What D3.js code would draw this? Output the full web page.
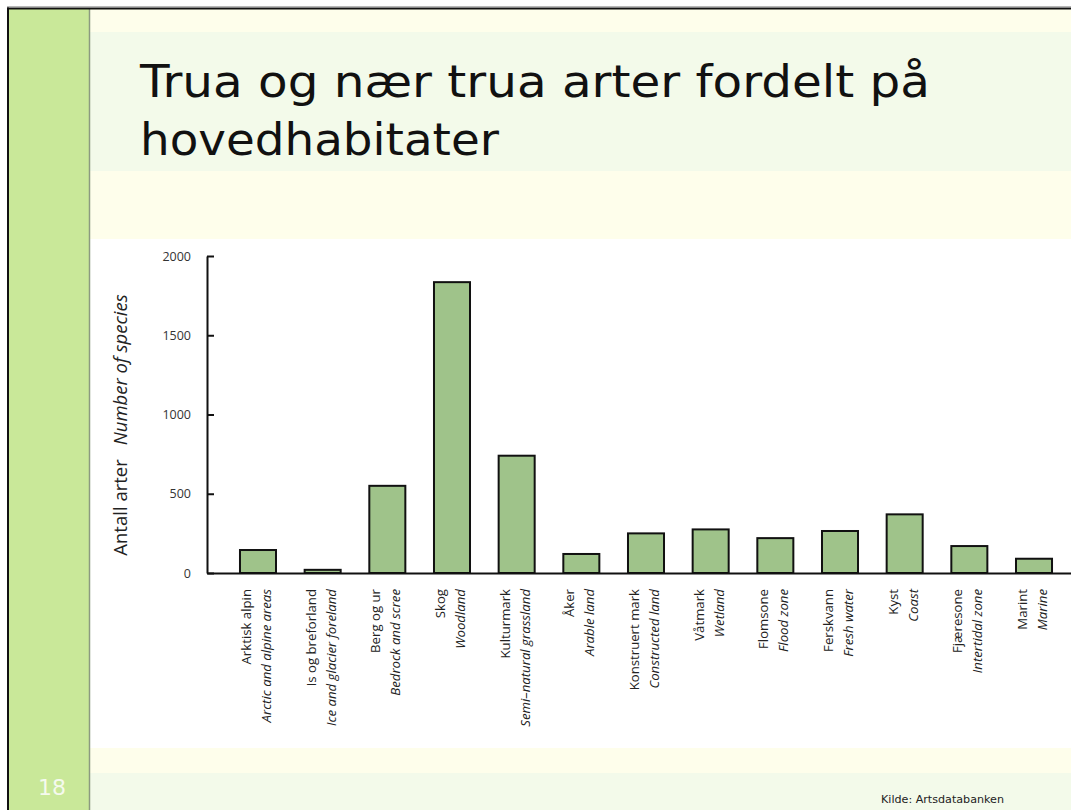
<!DOCTYPE html>
<html>
<head>
<meta charset="utf-8">
<script src="https://cdn.jsdelivr.net/npm/d3@7"></script>
<style>
  html, body { margin: 0; padding: 0; background: #ffffff; }
  svg { display: block; }
</style>
</head>
<body>
<svg id="chart" width="1071" height="810"></svg>
<script>
// ---- data ----
const categoriesNo = ["Arktisk alpin", "Is og breforland", "Berg og ur", "Skog", "Kulturmark", "Åker",
  "Konstruert mark", "Våtmark", "Flomsone", "Ferskvann", "Kyst", "Fjæresone", "Marint"];
const categoriesEn = ["Arctic and alpine areas", "Ice and glacier foreland", "Bedrock and scree", "Woodland",
  "Semi\u2013natural grassland", "Arable land", "Constructed land", "Wetland", "Flood zone", "Fresh water",
  "Coast", "Intertidal zone", "Marine"];
const values = [145, 20, 550, 1835, 740, 120, 250, 275, 220, 265, 370, 170, 90];
const yTicks = [0, 500, 1000, 1500, 2000];
const titleLines = ["Trua og nær trua arter fordelt på", "hovedhabitater"];
const yLabelNo = "Antall arter";
const yLabelEn = "Number of species";
const pageNumber = "18";
const sourceText = "Kilde: Artsdatabanken";

const svg = d3.select("#chart");

// ---- slide background ----
const cream = "#fefeeb", lightGreen = "#f3faea";
svg.append("rect").attr("x", 0).attr("y", 0).attr("width", 1071).attr("height", 810).attr("fill", "#ffffff");
const bands = [
  [9, 32, cream], [32, 171, lightGreen], [171, 239, cream], [239, 748, "#ffffff"],
  [748, 773, cream], [773, 810, lightGreen]
];
bands.forEach(([y0, y1, c]) => {
  svg.append("rect").attr("x", 90).attr("y", y0).attr("width", 1071 - 90).attr("height", y1 - y0).attr("fill", c);
});
// left stripe
svg.append("rect").attr("x", 9).attr("y", 9).attr("width", 80).attr("height", 801).attr("fill", "#c9e899");
svg.append("line").attr("x1", 89.5).attr("x2", 89.5).attr("y1", 9).attr("y2", 810)
  .attr("stroke", "#8c9a80").attr("stroke-width", 1.5);
// frame
svg.append("line").attr("x1", 7).attr("x2", 1071).attr("y1", 6.5).attr("y2", 6.5).attr("stroke", "#b8b8b8").attr("stroke-width", 1);
svg.append("line").attr("x1", 7).attr("x2", 1071).attr("y1", 8.5).attr("y2", 8.5).attr("stroke", "#111").attr("stroke-width", 2);
svg.append("line").attr("x1", 8).attr("x2", 8).attr("y1", 7.5).attr("y2", 810).attr("stroke", "#111").attr("stroke-width", 2);

// ---- title ----
const titleWidths = [790, 359];
titleLines.forEach((t, i) => {
  svg.append("text").attr("x", 140).attr("y", 97 + i * 58)
    .attr("font-family", "DejaVu Sans, Verdana, sans-serif").attr("font-size", 44)
    .attr("fill", "#111").attr("textLength", titleWidths[i]).attr("lengthAdjust", "spacingAndGlyphs")
    .text(t);
});

// page number & source
svg.append("text").attr("x", 38).attr("y", 795).attr("font-family", "DejaVu Sans, sans-serif")
  .attr("font-size", 22).attr("fill", "#f5faee").text(pageNumber);
svg.append("text").attr("x", 881).attr("y", 803).attr("font-family", "DejaVu Sans, sans-serif")
  .attr("font-size", 10.5).attr("fill", "#222").attr("textLength", 123).attr("lengthAdjust", "spacingAndGlyphs")
  .text(sourceText);

// ---- chart ----
const x0 = 207, yBase = 573, yTop = 256;
const x = d3.scaleBand().domain(categoriesNo).range([x0, 1085]).paddingInner(0.443).paddingOuter(0.51);
const y = d3.scaleLinear().domain([0, 2000]).range([yBase, yTop]);

const g = svg.append("g");

// bars
g.selectAll("rect.bar").data(values).join("rect").attr("class", "bar")
  .attr("x", (d, i) => x(categoriesNo[i]))
  .attr("y", d => y(d))
  .attr("width", x.bandwidth())
  .attr("height", d => yBase - y(d))
  .attr("fill", "#9fc38a").attr("stroke", "#111").attr("stroke-width", 2);

// y axis
const yAxis = d3.axisLeft(y).tickValues(yTicks).tickSizeInner(-7).tickSizeOuter(0).tickPadding(16).tickFormat(d3.format("d"));
const ya = g.append("g").attr("transform", `translate(${x0},0)`).call(yAxis);
ya.select(".domain").attr("stroke", "#111").attr("stroke-width", 2);
ya.selectAll(".tick line").attr("stroke", "#111").attr("stroke-width", 2);
ya.selectAll(".tick text").attr("font-family", "Open Sans, sans-serif").attr("font-size", 12.5).attr("fill", "#333");

// x axis
const xAxis = d3.axisBottom(x).tickSize(0).tickFormat("");
const xa = g.append("g").attr("transform", `translate(0,${yBase})`).call(xAxis);
xa.select(".domain").attr("stroke", "#111").attr("stroke-width", 2);

// x labels (rotated, two lines)
categoriesNo.forEach((c, i) => {
  const cx = x(c) + x.bandwidth() / 2;
  const t = g.append("text").attr("transform", `translate(${cx},589) rotate(-90)`)
    .attr("text-anchor", "end").attr("font-family", "Open Sans, sans-serif").attr("font-size", 13.2).attr("fill", "#222");
  t.append("tspan").attr("x", 0).attr("y", -7).text(c);
  t.append("tspan").attr("x", 0).attr("y", 13).attr("font-style", "italic").text(categoriesEn[i]);
});

// y label
const yl = g.append("text").attr("transform", "translate(127,425) rotate(-90)")
  .attr("text-anchor", "middle").attr("font-family", "Open Sans, sans-serif").attr("font-size", 18.5).attr("fill", "#222");
yl.append("tspan").text(yLabelNo);
yl.append("tspan").attr("dx", 14).attr("font-style", "italic").text(yLabelEn);
</script>
</body>
</html>
